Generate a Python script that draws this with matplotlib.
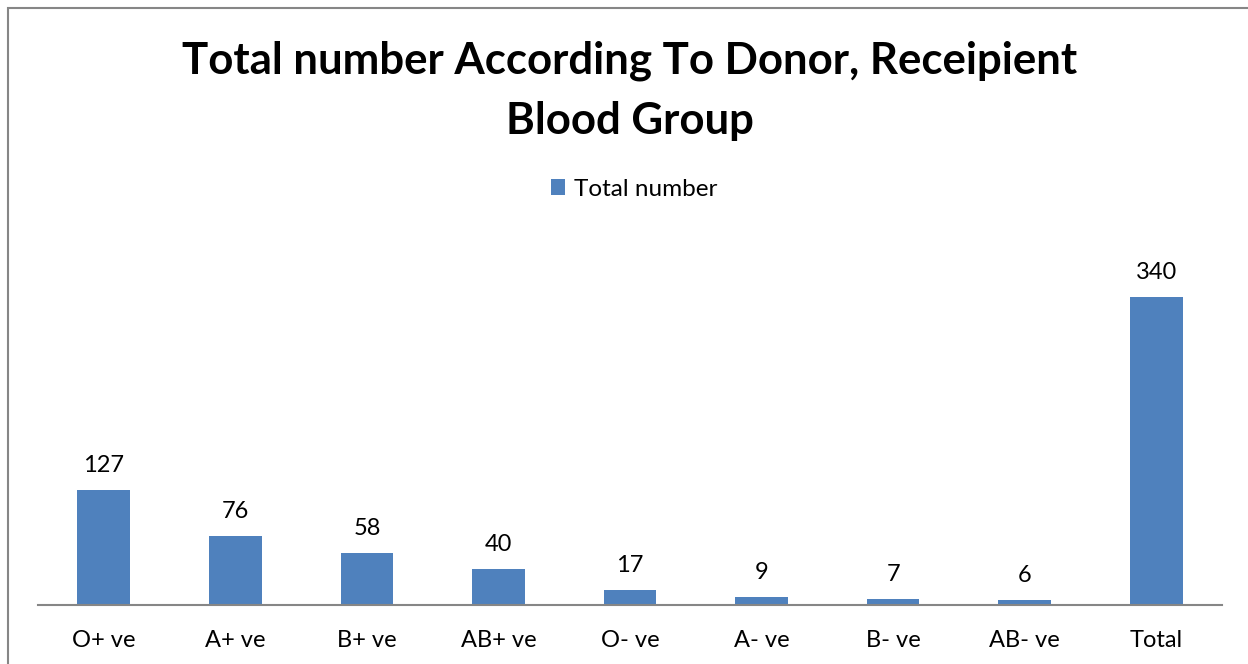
import matplotlib.pyplot as plt
from matplotlib.patches import Rectangle

groups = ['O+ ve', 'A+ ve', 'B+ ve', 'AB+ ve', 'O- ve', 'A- ve', 'B- ve', 'AB- ve', 'Total']
totals = [127, 76, 58, 40, 17, 9, 7, 6, 340]

plt.rcParams['font.family'] = ['Lato', 'DejaVu Sans']

W, H = 1248, 664
fig = plt.figure(figsize=(W / 100, H / 100), dpi=100)

# outer chart border (cropped on the right and bottom)
fig.patches.append(Rectangle((8 / W, -0.1), 1.2, 1.1 - 8 / H, transform=fig.transFigure,
                             fill=False, edgecolor='#868686', lw=1.5))

ax = fig.add_axes([38 / W, (H - 605) / H, (1222 - 38) / W, (605 - 243) / H])
bars = ax.bar(range(len(groups)), totals, width=0.4, color='#4F81BD', label='Total number')
ax.bar_label(bars, padding=10, fontsize=17)

ax.set_xlim(-0.5, len(groups) - 0.5)
ax.set_ylim(0, 400)
ax.set_xticks(range(len(groups)))
ax.set_xticklabels(groups, fontsize=17)
ax.set_yticks([])
ax.tick_params(axis='x', length=0, pad=18)
for s in ['top', 'left', 'right']:
    ax.spines[s].set_visible(False)
ax.spines['bottom'].set_color('#868686')
ax.spines['bottom'].set_linewidth(1.5)

fig.text(630 / W, 1 - 91 / H, 'Total number According To Donor, Receipient\nBlood Group',
         ha='center', va='center', fontsize=31.5, fontweight='bold', linespacing=1.6)

fig.legend(loc='center', bbox_to_anchor=(634 / W, 1 - 189 / H), frameon=False,
           fontsize=17.5, handlelength=0.6, handleheight=0.6, handletextpad=0.35)

fig.savefig('out.png', dpi=100)
